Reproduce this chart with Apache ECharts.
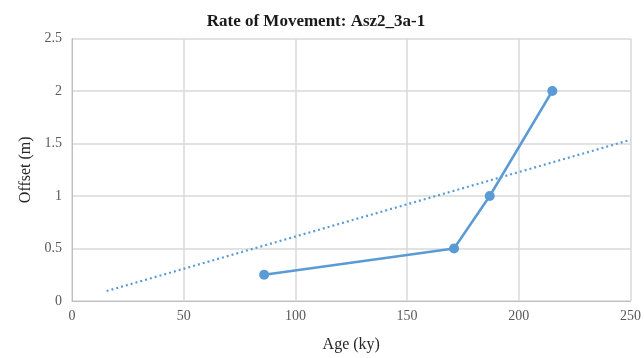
<!DOCTYPE html>
<html>
<head>
<meta charset="utf-8">
<script src="https://cdn.jsdelivr.net/npm/echarts@6/dist/echarts.min.js"></script>
<style>
  html, body { margin: 0; padding: 0; background: #fff; }
  #chart { width: 644px; height: 358px; }
</style>
</head>
<body>
<div id="chart"></div>
<script>
// Measured offsets by age
const ages = [86, 171, 187, 215];
const offsets = [0.25, 0.5, 1.0, 2.0];

// Linear trendline through the origin (end points)
const trendAges = [15.5, 250];
const trendOffsets = [0.095, 1.535];

const xTicks = [0, 50, 100, 150, 200, 250];
const yTicks = [0, 0.5, 1, 1.5, 2, 2.5];

const serif = '"Liberation Serif", "Times New Roman", serif';
const lineColor = '#5b9bd5';

const chart = echarts.init(document.getElementById('chart'));
chart.setOption({
  animation: false,
  title: {
    text: 'Rate of Movement: Asz2_3a-1',
    left: 311,
    top: 8,
    textAlign: 'center',
    textStyle: { fontFamily: serif, fontSize: 17, fontWeight: 'bold', color: '#1a1a1a' }
  },
  grid: { left: 72, right: 13, top: 38.5, bottom: 54, containLabel: false },
  xAxis: {
    type: 'value',
    min: xTicks[0],
    max: xTicks[xTicks.length - 1],
    interval: 50,
    name: 'Age (ky)',
    nameLocation: 'middle',
    nameGap: 36,
    nameTextStyle: { fontFamily: serif, fontSize: 16, color: '#262626' },
    axisLine: { lineStyle: { color: '#bfbfbf', width: 1 } },
    axisTick: { show: false },
    axisLabel: { fontFamily: serif, fontSize: 14, color: '#595959', margin: 8 },
    splitLine: { lineStyle: { color: '#d9d9d9', width: 1.5 } }
  },
  yAxis: {
    type: 'value',
    min: yTicks[0],
    max: yTicks[yTicks.length - 1],
    interval: 0.5,
    name: 'Offset (m)',
    nameLocation: 'middle',
    nameGap: 37,
    nameRotate: 90,
    nameTextStyle: { fontFamily: serif, fontSize: 16, color: '#262626' },
    axisLine: { show: true, lineStyle: { color: '#bfbfbf', width: 1 } },
    axisTick: { show: false },
    axisLabel: { fontFamily: serif, fontSize: 14, color: '#595959', margin: 10 },
    splitLine: { lineStyle: { color: '#d9d9d9', width: 1.5 } }
  },
  series: [
    {
      type: 'line',
      data: trendAges.map((a, i) => [a, trendOffsets[i]]),
      symbol: 'none',
      lineStyle: { color: lineColor, width: 2.2, type: [2, 3] },
      z: 2
    },
    {
      type: 'line',
      data: ages.map((a, i) => [a, offsets[i]]),
      symbol: 'circle',
      symbolSize: 10,
      itemStyle: { color: lineColor },
      lineStyle: { color: lineColor, width: 2.5 },
      z: 3
    }
  ]
});
</script>
</body>
</html>
